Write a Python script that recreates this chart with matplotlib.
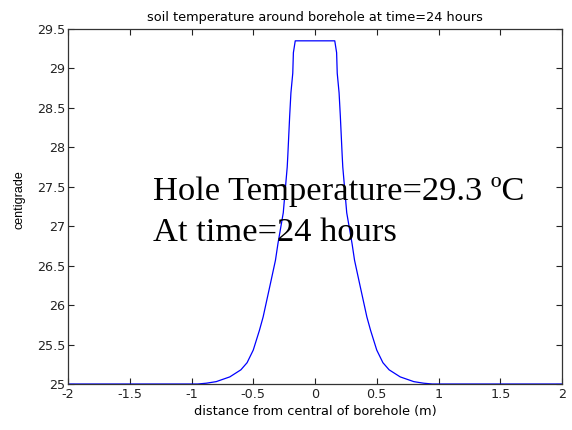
import matplotlib
matplotlib.use("Agg")
import matplotlib.pyplot as plt
import numpy as np

# distance from centre (m) on one side and temperature (centigrade)
r_vals = [0.0, 0.15, 0.16, 0.175, 0.18, 0.195, 0.205, 0.22, 0.225, 0.257, 0.30,
          0.32, 0.36, 0.42, 0.45, 0.50, 0.55, 0.60, 0.69, 0.80, 0.88, 0.95, 2.0]
t_vals = [29.35, 29.35, 29.35, 29.2, 28.94, 28.69, 28.4, 27.9, 27.75, 27.17, 26.78,
          26.57, 26.28, 25.85, 25.68, 25.43, 25.27, 25.18, 25.09, 25.03, 25.01, 25.0, 25.0]

x = [-r for r in reversed(r_vals)] + r_vals[1:]
y = list(reversed(t_vals)) + t_vals[1:]

xticks = [-2, -1.5, -1, -0.5, 0, 0.5, 1, 1.5, 2]
xticklabels = ["-2", "-1.5", "-1", "-0.5", "0", "0.5", "1", "1.5", "2"]
yticks = [25, 25.5, 26, 26.5, 27, 27.5, 28, 28.5, 29, 29.5]
yticklabels = ["25", "25.5", "26", "26.5", "27", "27.5", "28", "28.5", "29", "29.5"]

plt.rcParams['font.family'] = ['DejaVu Sans']

fig = plt.figure(figsize=(5.72, 4.30), dpi=100)
ax = fig.add_axes([68/572, 46/430, 494/572, 355/430])
ax.plot(x, y, color=(0, 0, 1), lw=0.9)
ax.set_xlim(-2, 2)
ax.set_ylim(25, 29.5)
ax.set_xticks(xticks)
ax.set_xticklabels(xticklabels)
ax.set_yticks(yticks)
ax.set_yticklabels(yticklabels)
ax.tick_params(direction='in', top=True, right=True, length=4, width=0.8,
               labelsize=9.2, colors='#222222', pad=2)
ax.tick_params(axis='x', pad=3)
for s in ax.spines.values():
    s.set_linewidth(0.9)
    s.set_color('#333333')
ax.set_title("soil temperature around borehole at time=24 hours", fontsize=9.3, pad=6)
ax.set_xlabel("distance from central of borehole (m)", fontsize=9.3, labelpad=3)
ax.set_ylabel("centigrade", fontsize=9, family=['Liberation Sans', 'DejaVu Sans'])
ax.yaxis.set_label_coords(-0.087, 0.52)

ax.text(-1.314, 27.33, "Hole Temperature=29.3 ºC", fontsize=24.8,
        family=['Liberation Serif', 'DejaVu Serif'], va='baseline', ha='left')
ax.text(-1.314, 26.81, "At time=24 hours", fontsize=24.8,
        family=['Liberation Serif', 'DejaVu Serif'], va='baseline', ha='left')

fig.savefig("out.png", dpi=100)
